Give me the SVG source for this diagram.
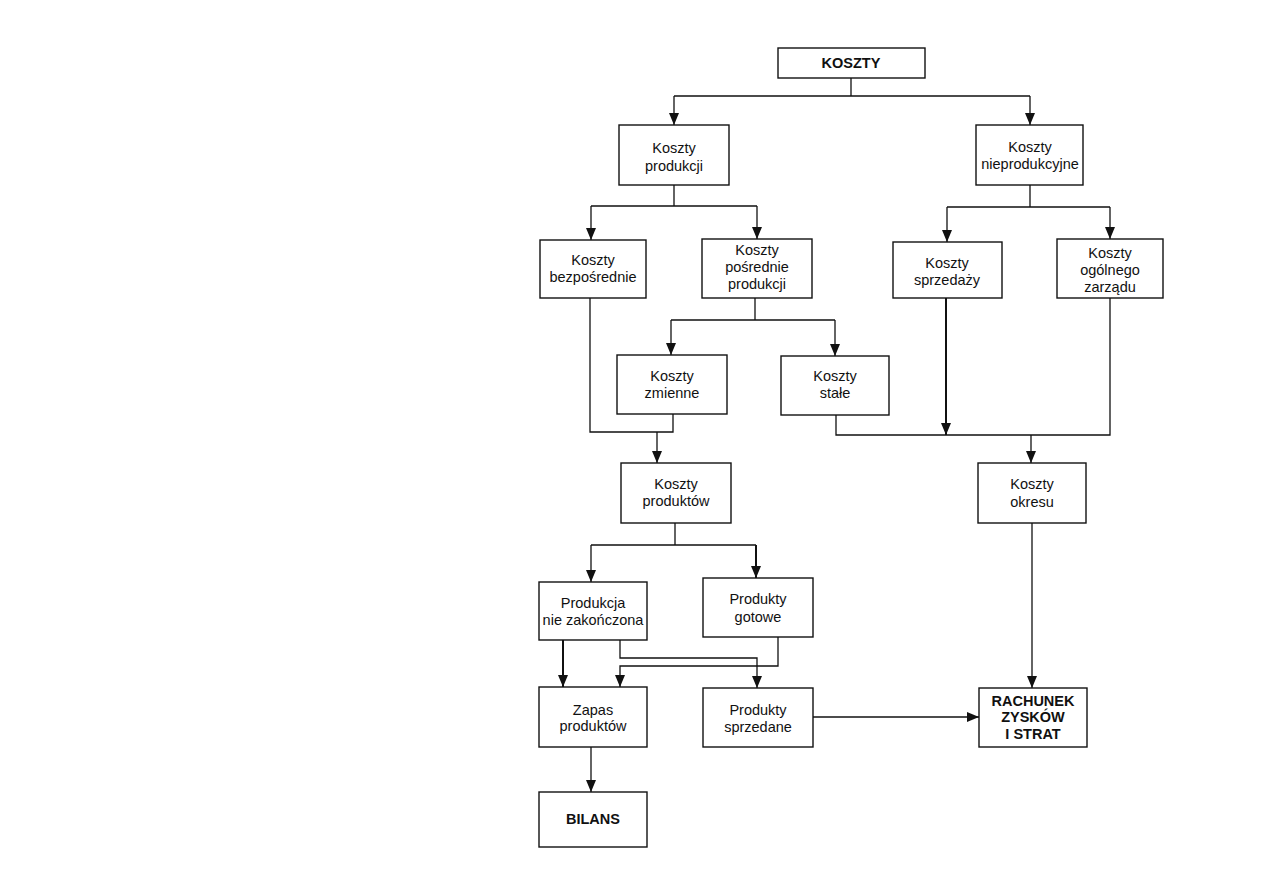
<svg xmlns="http://www.w3.org/2000/svg" width="1263" height="893" viewBox="0 0 1263 893">
<style>
.box{fill:#fff;stroke:#111;stroke-width:1.4}
.t{font-family:"Liberation Sans",Arial,sans-serif;font-size:14.5px;fill:#111;text-anchor:middle}
.b{font-weight:bold}
.c{fill:none;stroke:#111;stroke-width:1.3}
.k{stroke-width:2}
</style>
<defs>
<marker id="ah" markerUnits="userSpaceOnUse" markerWidth="12" markerHeight="10" refX="12" refY="5" orient="auto" viewBox="0 0 12 10">
<path d="M0,0 L12,5 L0,10 z" fill="#111"/>
</marker>
</defs>
<rect width="1263" height="893" fill="#fff"/>
<g id="connectors">
<path class="c" d="M851,78 V96 M674,96 H1030"/>
<path class="c" d="M674,96 V125" marker-end="url(#ah)"/>
<path class="c" d="M1030,96 V125" marker-end="url(#ah)"/>
<path class="c" d="M674,185 V206 M591,206 H757"/>
<path class="c" d="M591,206 V240" marker-end="url(#ah)"/>
<path class="c" d="M757,206 V239" marker-end="url(#ah)"/>
<path class="c" d="M1030,185 V207 M947,207 H1110"/>
<path class="c" d="M947,207 V242" marker-end="url(#ah)"/>
<path class="c" d="M1110,207 V239" marker-end="url(#ah)"/>
<path class="c" d="M755,298 V320 M671,320 H835"/>
<path class="c" d="M671,320 V355" marker-end="url(#ah)"/>
<path class="c" d="M835,320 V356" marker-end="url(#ah)"/>
<path class="c" d="M590,298 V432 H673 V414"/>
<path class="c" d="M657,432 V463" marker-end="url(#ah)"/>
<path class="c" d="M836,415 V435 H1110 V298"/>
<path class="c k" d="M946,298 V435" marker-end="url(#ah)"/>
<path class="c" d="M1031,435 V463" marker-end="url(#ah)"/>
<path class="c" d="M675,523 V545 M591,545 H756"/>
<path class="c" d="M591,545 V582" marker-end="url(#ah)"/>
<path class="c k" d="M756,545 V578" marker-end="url(#ah)"/>
<path class="c k" d="M563,640 V687" marker-end="url(#ah)"/>
<path class="c" d="M620,640 V658 H757 V688" marker-end="url(#ah)"/>
<path class="c" d="M778,637 V666 H620 V687" marker-end="url(#ah)"/>
<path class="c" d="M591,747 V792" marker-end="url(#ah)"/>
<path class="c" d="M1032,523 V688" marker-end="url(#ah)"/>
<path class="c" d="M813,717 H979" marker-end="url(#ah)"/>
</g>
<g id="koszty"><rect class="box" x="778" y="48" width="147" height="30"/><text class="t b" x="851" y="68">KOSZTY</text></g>
<g id="koszty-produkcji"><rect class="box" x="619" y="125" width="110" height="60"/><text class="t" x="674" y="153">Koszty</text><text class="t" x="674" y="171">produkcji</text></g>
<g id="koszty-nieprodukcyjne"><rect class="box" x="976" y="125" width="107" height="60"/><text class="t" x="1030" y="152">Koszty</text><text class="t" x="1030" y="169">nieprodukcyjne</text></g>
<g id="koszty-bezposrednie"><rect class="box" x="540" y="240" width="106" height="58"/><text class="t" x="593" y="265">Koszty</text><text class="t" x="593" y="282">bezpośrednie</text></g>
<g id="koszty-posrednie"><rect class="box" x="702" y="239" width="110" height="59"/><text class="t" x="757" y="255">Koszty</text><text class="t" x="757" y="272">pośrednie</text><text class="t" x="757" y="289">produkcji</text></g>
<g id="koszty-sprzedazy"><rect class="box" x="893" y="242" width="109" height="56"/><text class="t" x="947" y="268">Koszty</text><text class="t" x="947" y="285">sprzedaży</text></g>
<g id="koszty-zarzadu"><rect class="box" x="1057" y="239" width="106" height="59"/><text class="t" x="1110" y="258">Koszty</text><text class="t" x="1110" y="275">ogólnego</text><text class="t" x="1110" y="292">zarządu</text></g>
<g id="koszty-zmienne"><rect class="box" x="617" y="355" width="110" height="59"/><text class="t" x="672" y="381">Koszty</text><text class="t" x="672" y="398">zmienne</text></g>
<g id="koszty-stale"><rect class="box" x="781" y="356" width="108" height="59"/><text class="t" x="835" y="381">Koszty</text><text class="t" x="835" y="398">stałe</text></g>
<g id="koszty-produktow"><rect class="box" x="621" y="463" width="110" height="60"/><text class="t" x="676" y="489">Koszty</text><text class="t" x="676" y="506">produktów</text></g>
<g id="koszty-okresu"><rect class="box" x="978" y="463" width="108" height="60"/><text class="t" x="1032" y="489">Koszty</text><text class="t" x="1032" y="507">okresu</text></g>
<g id="produkcja-niezakonczona"><rect class="box" x="539" y="582" width="108" height="58"/><text class="t" x="593" y="608">Produkcja</text><text class="t" x="593" y="625">nie zakończona</text></g>
<g id="produkty-gotowe"><rect class="box" x="703" y="578" width="110" height="59"/><text class="t" x="758" y="604">Produkty</text><text class="t" x="758" y="622">gotowe</text></g>
<g id="zapas-produktow"><rect class="box" x="539" y="687" width="108" height="60"/><text class="t" x="593" y="715">Zapas</text><text class="t" x="593" y="731">produktów</text></g>
<g id="produkty-sprzedane"><rect class="box" x="703" y="688" width="110" height="59"/><text class="t" x="758" y="715">Produkty</text><text class="t" x="758" y="732">sprzedane</text></g>
<g id="bilans"><rect class="box" x="539" y="792" width="108" height="55"/><text class="t b" x="593" y="824">BILANS</text></g>
<g id="rachunek"><rect class="box" x="979" y="688" width="108" height="59"/><text class="t b" x="1033" y="706">RACHUNEK</text><text class="t b" x="1033" y="722">ZYSKÓW</text><text class="t b" x="1033" y="739">I STRAT</text></g>
</svg>
